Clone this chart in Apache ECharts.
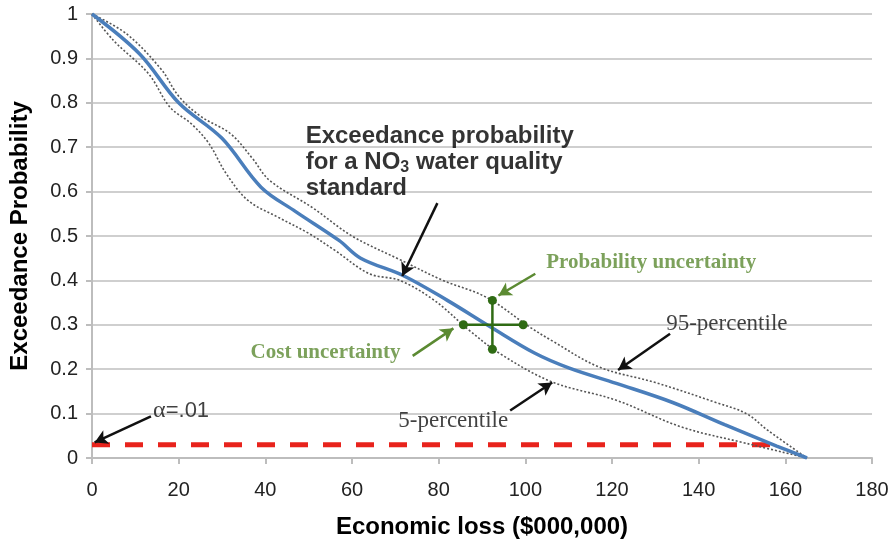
<!DOCTYPE html>
<html>
<head>
<meta charset="utf-8">
<script src="https://cdn.jsdelivr.net/npm/echarts@6/dist/echarts.min.js"></script>
<style>
html, body { margin: 0; padding: 0; background: #fff; }
#main { width: 896px; height: 545px; }
</style>
</head>
<body>
<div id="main"></div>
<script>
// median exceedance curve
var medianX = [0, 11, 20, 30, 39, 47, 57, 62, 72, 82, 92, 102, 110, 121, 134, 146, 158, 165];
var medianY = [1, 0.91, 0.80, 0.72, 0.61, 0.555, 0.49, 0.45, 0.41, 0.355, 0.295, 0.237, 0.203, 0.168, 0.125, 0.075, 0.027, 0];

// 95-percentile
var upperX = [0, 8, 16, 20, 25, 32, 37, 41, 51, 60, 71, 81, 91, 101, 106, 117, 130, 144, 151, 156, 165];
var upperY = [1, 0.955, 0.875, 0.815, 0.77, 0.73, 0.675, 0.625, 0.563, 0.50, 0.447, 0.40, 0.362, 0.295, 0.265, 0.205, 0.17, 0.125, 0.10, 0.062, 0];

// 5-percentile
var lowerX = [0, 5, 13, 18, 23, 27, 31, 36, 43, 50, 56, 64, 71, 79, 87, 94, 106, 121, 136, 151, 165];
var lowerY = [1, 0.94, 0.866, 0.79, 0.752, 0.708, 0.64, 0.58, 0.542, 0.506, 0.468, 0.415, 0.40, 0.355, 0.288, 0.236, 0.172, 0.13, 0.07, 0.033, 0];

// alpha = .01 threshold line
var alphaX = [0, 158];
var alphaY = [0.03, 0.03];

// uncertainty cross at (92.4, 0.3)
var costX = [85.7, 99.5];
var costY = [0.3, 0.3];
var probX = [92.4, 92.4];
var probY = [0.355, 0.245];

// annotation arrows: [tailX, tailY, headX, headY]
var blackArrows = [
  [79.7, 0.574, 71.6, 0.41],
  [96.5, 0.107, 106.2, 0.17],
  [133.4, 0.28, 121.4, 0.198],
  [13.6, 0.094, 0.6, 0.035]
];
var greenArrows = [
  [102.3, 0.415, 93.8, 0.366],
  [74, 0.23, 83.4, 0.292]
];

// text notes
var noteText = ['{b|Exceedance probability}\n{b|for a NO}{s|3}{b| water quality}\n{b|standard}', 'Probability uncertainty', 'Cost uncertainty', '95-percentile', '5-percentile', '{g|α}=.01'];
var noteX = [49.3, 104.8, 36.6, 132.5, 70.7, 14.1];
var noteY = [0.666, 0.441, 0.238, 0.301, 0.083, 0.107];

function pairs(xs, ys) {
  return xs.map(function (x, i) { return [x, ys[i]]; });
}
function arrowData(list) {
  return list.map(function (a) {
    return [{ coord: [a[0], a[1]] }, { coord: [a[2], a[3]] }];
  });
}

var green = '#5b8a32';
var darkGreen = '#2f6b14';
var sans = '"Liberation Sans", Arial, sans-serif';
var serif = '"Liberation Serif", "Times New Roman", serif';

var noteStyles = [
  { color: '#000', rich: {
      b: { fontFamily: sans, fontWeight: 'bold', fontSize: 24, color: '#000', lineHeight: 26 },
      s: { fontFamily: sans, fontWeight: 'bold', fontSize: 16, color: '#000', lineHeight: 26, verticalAlign: 'bottom', padding: [12, 0, 0, 0] }
  } },
  { fontFamily: serif, fontWeight: 'bold', fontSize: 21, color: green },
  { fontFamily: serif, fontWeight: 'bold', fontSize: 21, color: green },
  { fontFamily: serif, fontSize: 23, color: '#111' },
  { fontFamily: serif, fontSize: 23, color: '#111' },
  { fontFamily: sans, fontSize: 22, color: '#111', rich: { g: { fontFamily: serif, fontSize: 24, color: '#111' } } }
];

var noteData = noteText.map(function (t, i) {
  var lab = Object.assign({
    show: true, position: 'right', distance: 0, align: 'left', verticalAlign: 'middle',
    formatter: t
  }, noteStyles[i]);
  return { value: [noteX[i], noteY[i]], label: lab };
});

var chartDom = document.getElementById('main');
var myChart = echarts.init(chartDom, null, { renderer: 'canvas' });

var option = {
  animation: false,
  textStyle: { fontFamily: sans },
  grid: { left: 91, right: 24, top: 14, bottom: 87, containLabel: false },
  xAxis: {
    type: 'value', min: 0, max: 180, interval: 20,
    name: 'Economic loss ($000,000)',
    nameLocation: 'middle', nameGap: 57,
    nameTextStyle: { fontFamily: sans, fontWeight: 'bold', fontSize: 24, color: '#000' },
    axisLine: { show: true, lineStyle: { color: '#bdbdbd', width: 2 } },
    axisTick: { show: true, length: 6, lineStyle: { color: '#bdbdbd', width: 2 } },
    axisLabel: { fontSize: 20, color: '#222', margin: 22, fontFamily: sans },
    splitLine: { show: false }
  },
  yAxis: {
    type: 'value', min: 0, max: 1, interval: 0.1,
    name: 'Exceedance Probability',
    nameLocation: 'middle', nameGap: 60,
    nameTextStyle: { fontFamily: sans, fontWeight: 'bold', fontSize: 24, color: '#000' },
    axisLine: { show: true, lineStyle: { color: '#bdbdbd', width: 2 } },
    axisTick: { show: true, length: 6, lineStyle: { color: '#bdbdbd', width: 2 } },
    axisLabel: { fontSize: 20, color: '#222', margin: 14, fontFamily: sans },
    splitLine: { show: true, lineStyle: { color: '#cfcfcf', width: 2 } }
  },
  series: [
    {
      type: 'line', data: pairs(alphaX, alphaY), symbol: 'none',
      lineStyle: { color: '#e8231c', width: 5, type: [18, 15] }, z: 2
    },
    {
      type: 'line', data: pairs(upperX, upperY), symbol: 'none', smooth: 0.35,
      lineStyle: { color: '#555', width: 1.6, type: [2, 2] }, z: 3
    },
    {
      type: 'line', data: pairs(lowerX, lowerY), symbol: 'none', smooth: 0.35,
      lineStyle: { color: '#555', width: 1.6, type: [2, 2] }, z: 3
    },
    {
      type: 'line', data: pairs(medianX, medianY), symbol: 'none', smooth: 0.35,
      lineStyle: { color: '#4a7ebb', width: 3.5 }, z: 4
    },
    {
      type: 'line', data: pairs(costX, costY), symbol: 'circle', symbolSize: 9, showAllSymbol: true,
      itemStyle: { color: darkGreen }, lineStyle: { color: darkGreen, width: 2.5 }, z: 5
    },
    {
      type: 'line', data: pairs(probX, probY), symbol: 'circle', symbolSize: 9, showAllSymbol: true,
      itemStyle: { color: darkGreen }, lineStyle: { color: darkGreen, width: 2.5 }, z: 5
    },
    {
      type: 'scatter', data: [], silent: true,
      markLine: {
        silent: true, symbol: ['none', 'arrow'], symbolSize: [11, 13], label: { show: false },
        lineStyle: { color: '#111', width: 2.5, type: 'solid' },
        data: arrowData(blackArrows)
      }
    },
    {
      type: 'scatter', data: [], silent: true,
      markLine: {
        silent: true, symbol: ['none', 'arrow'], symbolSize: [11, 13], label: { show: false },
        lineStyle: { color: green, width: 2.5, type: 'solid' },
        data: arrowData(greenArrows)
      }
    },
    {
      type: 'scatter', data: noteData, symbolSize: 0, silent: true, z: 10
    }
  ]
};

myChart.setOption(option);
</script>
</body>
</html>
